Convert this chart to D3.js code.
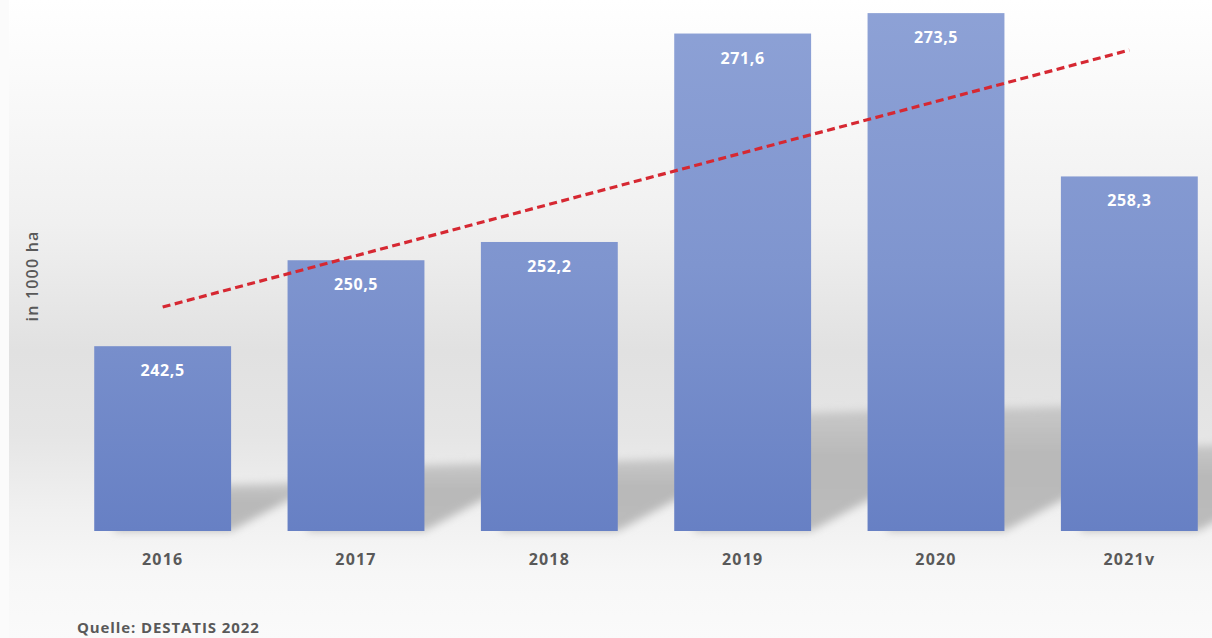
<!DOCTYPE html>
<html><head><meta charset="utf-8">
<script src="https://cdn.jsdelivr.net/npm/d3@7"></script>
<style>html,body{margin:0;padding:0;background:#fff;}svg{display:block;}</style>
</head><body>
<script>
const categories = ["2016","2017","2018","2019","2020","2021v"];
const values = [242.5, 250.5, 252.2, 271.6, 273.5, 258.3];
const valueLabels = ["242,5","250,5","252,2","271,6","273,5","258,3"];
const yTitle = "in 1000 ha";
const source = "Quelle: DESTATIS 2022";

const W = 1212, H = 638;
const svg = d3.select("body").append("svg").attr("width", W).attr("height", H);
const defs = svg.append("defs");

const bg = defs.append("linearGradient").attr("id","bg").attr("x1",0).attr("y1",0).attr("x2",0).attr("y2",1);
[[0,"#ffffff"],[0.1,"#fbfbfb"],[0.35,"#f0f0f0"],[0.55,"#e1e1e1"],[0.68,"#e5e5e5"],[0.8,"#f0f0f0"],[0.9,"#f7f7f7"],[1,"#fafafa"]]
  .forEach(([o,c])=>bg.append("stop").attr("offset",o).attr("stop-color",c));

const base = 531;
const x = d3.scaleBand().domain(categories).range([66, 1226]).paddingInner(0.292).paddingOuter(0.146);
const y = d3.scaleLinear().domain([225.3, 275]).range([base, -3]);

const bar = defs.append("linearGradient").attr("id","bar").attr("gradientUnits","userSpaceOnUse")
  .attr("x1",0).attr("y1",0).attr("x2",0).attr("y2",base);
bar.append("stop").attr("offset",0).attr("stop-color","#8ea2d6");
bar.append("stop").attr("offset",0.5).attr("stop-color","#7f95cf");
bar.append("stop").attr("offset",1).attr("stop-color","#6780c4");

const blur = defs.append("filter").attr("id","blur").attr("x","-50%").attr("y","-50%").attr("width","200%").attr("height","200%");
blur.append("feGaussianBlur").attr("stdDeviation",4);

const shg = defs.append("linearGradient").attr("id","shg").attr("x1",0).attr("y1",0).attr("x2",0).attr("y2",1);
shg.append("stop").attr("offset",0).attr("stop-color","#c8c8c8");
shg.append("stop").attr("offset",0.4).attr("stop-color","#b8b8b8");
shg.append("stop").attr("offset",1).attr("stop-color","#bcbcbc");

svg.append("rect").attr("x",9).attr("y",0).attr("width",W-9).attr("height",H).attr("fill","url(#bg)");
svg.append("rect").attr("x",0).attr("y",0).attr("width",9).attr("height",H).attr("fill","#fbfbfb");

// shadows
const sh = svg.append("g").attr("filter","url(#blur)");
categories.forEach((c,i)=>{
  const x0 = x(c), x1 = x(c)+x.bandwidth();
  const h = base - y(values[i]);
  const top = base - 0.23*h;
  const w = 70;
  const pts = [[x0+20, base],[x1, base],[x1+w, base - w*0.54],[x1+w, top - 6],[x0+20, top]];
  sh.append("polygon").attr("points", pts.map(p=>p.join(",")).join(" ")).attr("fill","url(#shg)");
});

// bars
svg.append("g").selectAll("rect").data(values).join("rect")
  .attr("x",(d,i)=>x(categories[i])).attr("y",d=>y(d))
  .attr("width",x.bandwidth()).attr("height",d=>base-y(d))
  .attr("fill","url(#bar)");

// value labels
svg.append("g").selectAll("text").data(values).join("text")
  .attr("x",(d,i)=>x(categories[i])+x.bandwidth()/2).attr("y",d=>y(d)+30)
  .attr("text-anchor","middle").attr("fill","#ffffff")
  .style("font-family","'Open Sans', sans-serif").style("font-weight","bold").style("font-size","16px")
  .style("letter-spacing","0.6px")
  .text((d,i)=>valueLabels[i]);

// x axis
const xa = svg.append("g").attr("transform",`translate(0,${base})`).call(d3.axisBottom(x).tickSize(0).tickPadding(23));
xa.select(".domain").remove();
xa.selectAll("text").attr("fill","#595959").style("font-family","'Open Sans', sans-serif")
  .style("font-weight","bold").style("font-size","16px").style("letter-spacing","1.2px");

// trend line (least squares)
const n = values.length, mx = (n-1)/2, my = d3.mean(values);
const slope = d3.sum(values,(v,i)=>(i-mx)*(v-my)) / d3.sum(values,(v,i)=>(i-mx)*(i-mx));
const icpt = my - slope*mx;
const cx = i => x(categories[i]) + x.bandwidth()/2;
svg.append("line").attr("x1",cx(0)).attr("y1",y(icpt)).attr("x2",cx(n-1)).attr("y2",y(icpt+slope*(n-1)))
  .attr("stroke","#d62832").attr("stroke-width",3.2).attr("stroke-dasharray","8,4.5");

// y title
svg.append("text").attr("transform","translate(38,276) rotate(-90)").attr("text-anchor","middle")
  .attr("fill","#595959").style("font-family","'Open Sans', sans-serif").style("font-size","16px")
  .style("font-weight","600").style("letter-spacing","1.2px").text(yTitle);

// source
svg.append("text").attr("x",77).attr("y",633).attr("fill","#595959")
  .style("font-family","'Open Sans', sans-serif").style("font-weight","bold").style("font-size","15px")
  .style("letter-spacing","0.9px")
  .text(source);
</script>
</body></html>
